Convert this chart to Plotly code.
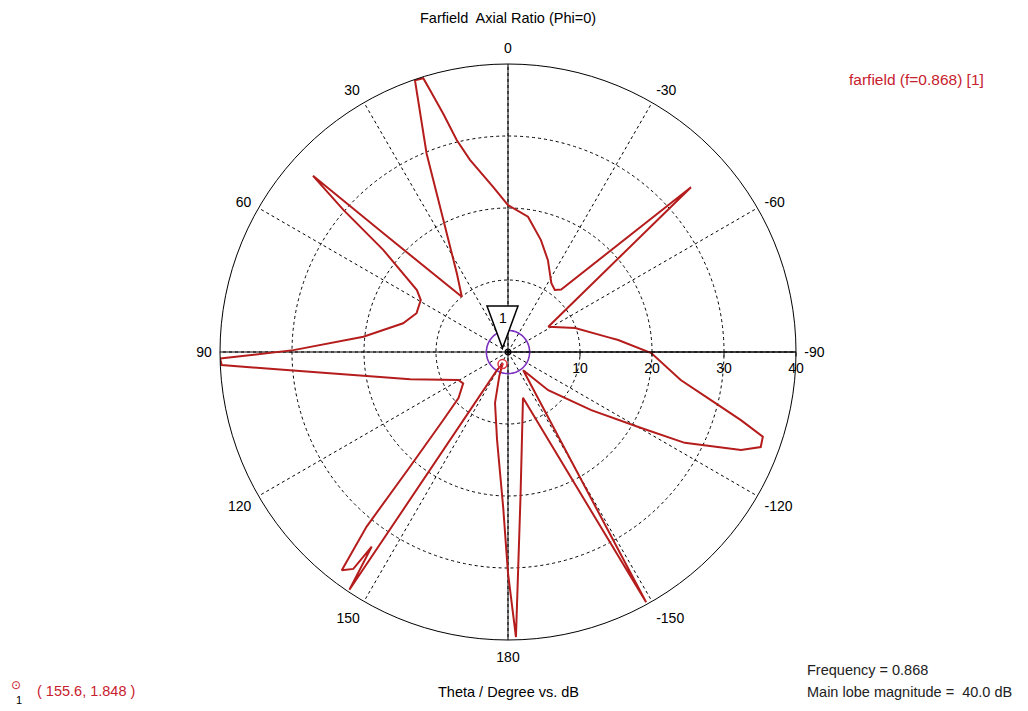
import math
import plotly.graph_objects as go

# ---------------- data (theta in degrees, axial ratio in dB) ----------------
theta_deg = [0, 5.1, 11.2, 13.6, 15.2, 16.6, 17.2, 18.9, 22.3, 26.1, 33.1, 39.9,
             46.4, 47.9, 49.2, 50.7, 55.8, 59.2, 67.0, 74.7, 84.0, 89.5, 91.3,
             92.6, 93.9, 96.2, 105.6, 119.4, 125.0, 133.0, 136.4, 139.5, 141.0,
             142.7, 144.5, 145.0, 146.3, 148.6, 155.6, 160.0, 165.7, 172.9,
             178.2, 180.0, 181.6, 185.0, 198.1, 208.9, 219.8, 226.5, 235.1,
             240.3, 242.8, 247.2, 249.4, 251.6, 253.7, 257.0, 260.8, 269.6,
             276.2, 278.5, 289.7, 302.0, 312.0, 319.6, 323.0, 327.8, 336.5,
             343.6, 351.6, 360.0]
ar_db = [20.4, 23.0, 27.2, 30.3, 34.3, 38.0, 39.8, 39.9, 29.8, 20.4, 13.0, 10.0,
         23.9, 36.5, 30.2, 22.4, 15.3, 14.1, 13.8, 15.1, 20.2, 29.8, 40.0,
         39.8, 33.6, 26.3, 14.1, 7.9, 7.6, 9.4, 13.0, 21.0, 31.2,
         38.1, 37.0, 33.0, 39.7, 2.9, 1.848, 3.5, 7.3, 12.3,
         21.5, 30.7, 39.6, 20.0, 6.7, 39.7, 3.3, 7.7, 14.1,
         21.3, 27.6, 35.1, 37.5, 37.3, 33.7, 28.5, 24.3, 19.9,
         15.4, 14.0, 9.9, 6.6, 34.2, 11.4, 10.8, 11.3, 13.9,
         16.2, 19.0, 20.4]

angle_ticks = [0, 30, 60, 90, 120, 150, 180, 210, 240, 270, 300, 330]
angle_labels = ["0", "30", "60", "90", "120", "150", "180",
                "-150", "-120", "-90", "-60", "-30"]
radial_ticks = [10, 20, 30, 40]
r_max = 40
ar_limit_db = 3.0                      # 3 dB axial-ratio circle
marker_theta, marker_r = 155.6, 1.848  # marker 1
frequency = 0.868
main_lobe = 40.0

# ---------------- layout constants ----------------
OFF = 8                       # page body margin of the html page
W, H = 1028 - OFF, 711 - OFF


def px2paper(x, y):
    """window pixel -> paper coordinates"""
    return (x - OFF) / W, 1 - (y - OFF) / H


dom_x = [px2paper(220, 0)[0], px2paper(796, 0)[0]]
dom_y = [px2paper(0, 640)[1], px2paper(0, 64)[1]]
FONT = "Liberation Sans"
curve_color = "#b51d1d"
red_text = "#c8202e"
GRID_DASH = "3px,3px"

fig = go.Figure()

# solid axis cross lines (0-180 and 90/-90)
fig.add_trace(go.Scatterpolar(theta=[90, 270], r=[r_max, r_max], mode="lines",
                              line=dict(color="black", width=1),
                              hoverinfo="skip", showlegend=False))
fig.add_trace(go.Scatterpolar(theta=[0, 180], r=[r_max, r_max], mode="lines",
                              line=dict(color="black", width=1),
                              hoverinfo="skip", showlegend=False))

# 3 dB circle
circ_t = list(range(0, 361, 3))
fig.add_trace(go.Scatterpolar(theta=circ_t, r=[ar_limit_db] * len(circ_t), mode="lines",
                              line=dict(color="#7a2fc0", width=1.6),
                              hoverinfo="skip", showlegend=False))

# axial ratio curve
fig.add_trace(go.Scatterpolar(theta=theta_deg, r=ar_db, mode="lines",
                              line=dict(color=curve_color, width=2),
                              name="farfield (f=0.868) [1]", showlegend=False))

# centre point
fig.add_trace(go.Scatterpolar(theta=[0], r=[0], mode="markers",
                              marker=dict(symbol="circle-open-dot", size=6,
                                          color="black", line=dict(width=1.2)),
                              hoverinfo="skip", showlegend=False))

# marker 1
fig.add_trace(go.Scatterpolar(theta=[marker_theta], r=[marker_r], mode="markers",
                              marker=dict(symbol="circle-open-dot", size=9,
                                          color="#e0303a", line=dict(width=1.5)),
                              hoverinfo="skip", showlegend=False))

fig.update_layout(
    width=W, height=H,
    margin=dict(l=0, r=0, t=0, b=0),
    paper_bgcolor="white",
    plot_bgcolor="white",
    font=dict(family=FONT, size=14, color="black"),
    polar=dict(
        domain=dict(x=dom_x, y=dom_y),
        bgcolor="white",
        angularaxis=dict(
            rotation=90, direction="counterclockwise",
            tickmode="array", tickvals=angle_ticks, ticktext=angle_labels,
            showgrid=True, gridcolor="black", gridwidth=1, griddash=GRID_DASH,
            showline=True, linecolor="black", linewidth=1,
            ticks="outside", ticklen=5, tickcolor="rgba(0,0,0,0)",
            tickfont=dict(family=FONT, size=14, color="black"),
        ),
        radialaxis=dict(
            range=[0, r_max], tickmode="array", tickvals=radial_ticks,
            angle=0, side="clockwise", tickangle=0,
            showgrid=True, gridcolor="black", gridwidth=1, griddash=GRID_DASH,
            showline=True, linecolor="black", linewidth=1,
            ticks="outside", ticklen=4, tickcolor="black",
            tickfont=dict(family=FONT, size=14, color="black"),
        ),
    ),
)

# ---------------- marker label triangle (placed relative to marker 1) ----------------
cx = (220 + 796) / 2
cy = (64 + 640) / 2
ppu = (796 - 220) / 2 / r_max
a = math.radians(90 + marker_theta)
mx = cx + marker_r * ppu * math.cos(a)
my = cy - marker_r * ppu * math.sin(a)
tip_y = my - 16
top_y = tip_y - 42
half_w = 15.5

p1 = px2paper(mx - half_w, top_y)
p2 = px2paper(mx + half_w, top_y)
p3 = px2paper(mx, tip_y)
fig.add_shape(type="path", xref="paper", yref="paper",
              path=f"M {p1[0]},{p1[1]} L {p2[0]},{p2[1]} L {p3[0]},{p3[1]} Z",
              line=dict(color="black", width=1.5), fillcolor="white")
tx, ty = px2paper(mx, top_y + 12)
fig.add_annotation(x=tx, y=ty, xref="paper", yref="paper", text="1", showarrow=False,
                   font=dict(family=FONT, size=14, color="black"))


def text(x, y, s, size=14.5, color="black", anchor="center", family=FONT, yanchor="middle"):
    px, py = px2paper(x, y)
    fig.add_annotation(x=px, y=py, xref="paper", yref="paper", xanchor=anchor,
                       yanchor=yanchor, text=s, showarrow=False,
                       font=dict(family=family, size=size, color=color))


# ---------------- texts ----------------
text(508, OFF, "Farfield  Axial Ratio (Phi=0)", yanchor="top")
text(986, 79, f"farfield (f={frequency}) [1]", size=15.5, color=red_text, anchor="right")
text(508, 692, "Theta / Degree vs. dB")
text(805, 670, f"Frequency = {frequency}", color="#222222", anchor="left")
text(805, 692, f"Main lobe magnitude =  {main_lobe:.1f} dB", color="#222222", anchor="left")
text(35, 691, f"( {marker_theta}, {marker_r} )", color=red_text, anchor="left")
text(16, 685, "⊙", size=12, color=red_text, family="DejaVu Sans")
text(19, 700, "1", size=11)

fig.write_html("out.html")
